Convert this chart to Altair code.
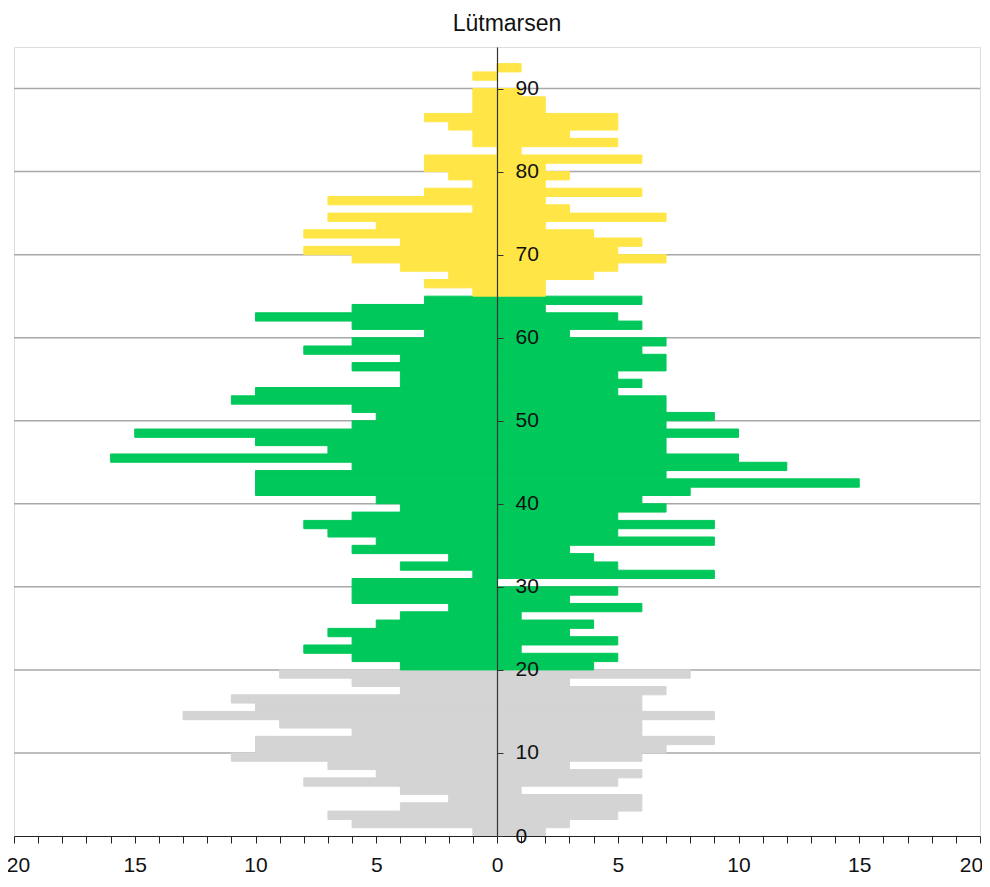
import altair as alt
import pandas as pd

# ---- data ----
ages = list(range(0, 93))
left_values = [1, 6, 7, 4, 2, 4, 8, 5, 7, 11,
               10, 10, 6, 9, 13, 10, 11, 4, 6, 9,
               4, 6, 8, 6, 7, 5, 4, 2, 6, 6,
               6, 1, 4, 2, 6, 5, 7, 8, 6, 4,
               5, 10, 10, 10, 6, 16, 7, 10, 15, 6,
               5, 6, 11, 10, 4, 4, 6, 4, 8, 6,
               3, 6, 10, 6, 3, 1, 3, 2, 4, 6,
               8, 4, 8, 5, 7, 1, 7, 3, 1, 2,
               3, 3, 0, 1, 1, 2, 3, 1, 1, 1,
               0, 1, 0]
right_values = [2, 3, 5, 6, 6, 1, 5, 6, 3, 6,
                7, 9, 6, 6, 9, 6, 6, 7, 3, 8,
                4, 5, 1, 5, 3, 4, 1, 6, 3, 5,
                0, 9, 5, 4, 3, 9, 5, 9, 5, 7,
                6, 8, 15, 7, 12, 10, 7, 7, 10, 7,
                9, 7, 7, 5, 6, 5, 7, 7, 6, 7,
                3, 6, 5, 2, 6, 2, 2, 4, 5, 7,
                5, 6, 4, 2, 7, 3, 2, 6, 2, 3,
                2, 6, 1, 5, 3, 5, 5, 2, 2, 1,
                0, 0, 1]
groups = ["0-19", "20-64", "65+"]
group_colors = ["#d4d4d4", "#00c85a", "#ffe646"]
y_tick_values = list(range(0, 100, 10))
grid_ages = list(range(10, 100, 10))
x_tick_values = list(range(-20, 21))
title_text = "Lütmarsen"


def group_of(a):
    if a < 20:
        return groups[0]
    if a < 65:
        return groups[1]
    return groups[2]


rows = []
for a, l, r in zip(ages, left_values, right_values):
    g = group_of(a)
    if l:
        rows.append({"age": a, "age_top": a + 1, "value": -l, "group": g})
    if r:
        rows.append({"age": a, "age_top": a + 1, "value": r, "group": g})
bars_df = pd.DataFrame(rows)
grid_df = pd.DataFrame({"age": grid_ages})

FONT = "Liberation Sans"

y_scale = alt.Scale(domain=[0, 95], nice=False, zero=True)
x_scale = alt.Scale(domain=[-20, 20], nice=False)

y_axis = alt.Axis(
    orient="right", offset=-483, values=y_tick_values, grid=False,
    domainColor="#333333", domainWidth=1.2, tickColor="#333333", tickSize=6,
    labelPadding=12, labelFontSize=21, labelFont=FONT, labelColor="#111111",
    labelAlign="left", labelBaseline="middle", labelFlush=False,
    labelOverlap=False, title=None, zindex=1,
)
x_axis = alt.Axis(
    values=x_tick_values, grid=False,
    labelExpr="datum.value % 5 == 0 ? abs(datum.value) : ''",
    labelOffset={"condition": [{"test": "datum.value == 20", "value": -9},
                               {"test": "datum.value == -20", "value": 4}],
                 "value": 0},
    domainColor="#222222", domainWidth=1.2, tickColor="#222222", tickSize=7,
    labelPadding=11, labelFontSize=21, labelFont=FONT, labelColor="#111111",
    labelFlush=False, labelOverlap=False, title=None, zindex=1,
)

grid = alt.Chart(grid_df).mark_rule(color="#a8a8a8", strokeWidth=1.5).encode(
    y=alt.Y("age:Q", scale=y_scale, axis=y_axis)
)

bars = alt.Chart(bars_df).mark_rect(strokeWidth=1).encode(
    x=alt.X("value:Q", scale=x_scale, axis=x_axis),
    x2=alt.datum(0),
    y=alt.Y("age:Q", scale=y_scale, axis=y_axis),
    y2="age_top:Q",
    color=alt.Color("group:N", scale=alt.Scale(domain=groups, range=group_colors), legend=None),
    stroke=alt.Stroke("group:N", scale=alt.Scale(domain=groups, range=group_colors), legend=None),
)

chart = alt.layer(grid, bars).properties(
    width=966,
    height=789,
    title=alt.TitleParams(title_text, fontSize=23, font=FONT, fontWeight="normal",
                          color="#111111", offset=11, dx=10),
    autosize=alt.AutoSizeParams(type="none"),
    padding={"left": 6, "top": 39, "right": 2, "bottom": 42},
).configure_view(
    stroke="#9a9a9a", strokeWidth=1.5
).configure(background="white")

chart.save("out.html", embed_options={"renderer": "svg", "actions": False})
